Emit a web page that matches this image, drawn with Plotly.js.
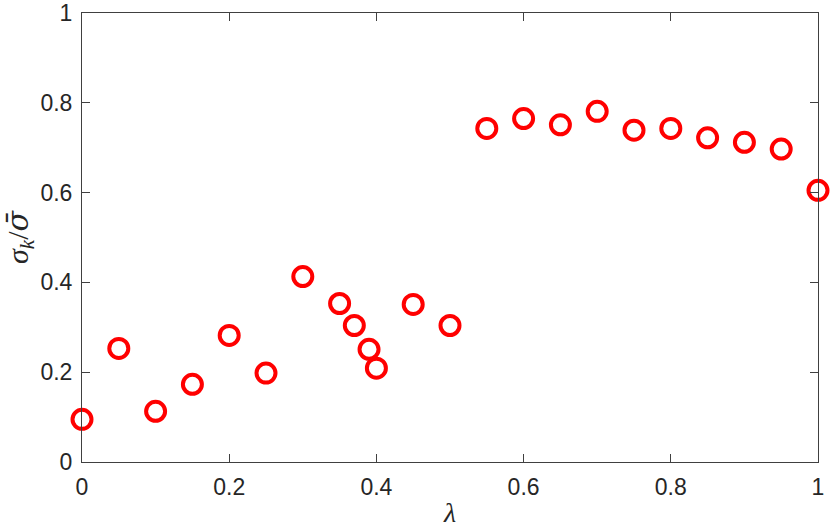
<!DOCTYPE html>
<html>
<head>
<meta charset="utf-8">
<script src="https://cdn.plot.ly/plotly-3.0.1.min.js"></script>
<style>html,body{margin:0;padding:0;background:#fff;}#chart{width:830px;height:528px;}</style>
</head>
<body>
<div id="chart"></div>
<script>
const lambdaVals = [0, 0.05, 0.10, 0.15, 0.20, 0.25, 0.30, 0.35, 0.37, 0.39, 0.40, 0.45, 0.50,
                    0.55, 0.60, 0.65, 0.70, 0.75, 0.80, 0.85, 0.90, 0.95, 1.00];
const sigmaRatio = [0.095, 0.253, 0.113, 0.173, 0.282, 0.198, 0.413, 0.353, 0.304, 0.251, 0.209, 0.351, 0.304,
                    0.743, 0.765, 0.751, 0.781, 0.739, 0.743, 0.722, 0.712, 0.697, 0.605];
const tickVals = [0, 0.2, 0.4, 0.6, 0.8, 1];
const tickText = ['0', '0.2', '0.4', '0.6', '0.8', '1'];

const axisCommon = {
  range: [0, 1],
  tickvals: tickVals,
  ticktext: tickText,
  ticks: 'inside',
  ticklen: 8,
  tickwidth: 1,
  tickcolor: '#404040',
  showline: true,
  linecolor: '#404040',
  linewidth: 1,
  mirror: 'ticks',
  showgrid: false,
  zeroline: false,
  ticklabeloverflow: 'allow',
  tickfont: {family: 'Liberation Sans, Arial, sans-serif', size: 23, color: '#262626'},
  fixedrange: true
};

const trace = {
  x: lambdaVals,
  y: sigmaRatio,
  type: 'scatter',
  mode: 'markers',
  cliponaxis: false,
  marker: {symbol: 'circle-open', size: 19, color: '#ff0000', line: {width: 4, color: '#ff0000'}}
};

const layout = {
  width: 830,
  height: 528,
  margin: {l: 82, r: 12, t: 13, b: 66},
  paper_bgcolor: '#ffffff',
  plot_bgcolor: '#ffffff',
  showlegend: false,
  xaxis: Object.assign({}, axisCommon, {
    ticklabelstandoff: 4,
    title: {text: '<i>λ</i>', font: {family: 'Liberation Serif, serif', size: 28, color: '#262626'}, standoff: 5}
  }),
  yaxis: Object.assign({}, axisCommon, {
    ticklabelstandoff: 4,
    title: {text: '<i>σ</i><sub><i>k</i></sub>/<i><span style="font-family:\'DejaVu Serif\'">σ\u0304</span></i>', font: {family: 'Liberation Serif, serif', size: 30, color: '#262626'}, standoff: 9}
  })
};

Plotly.newPlot('chart', [trace], layout, {displayModeBar: false, staticPlot: true});
</script>
</body>
</html>
